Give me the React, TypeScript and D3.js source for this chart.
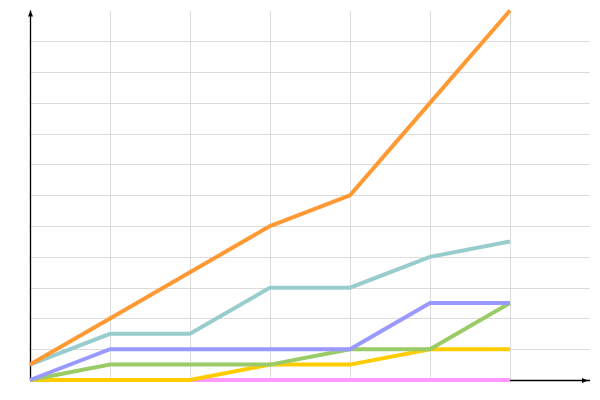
import React from "react";
import * as d3 from "d3";

// Seven sample positions along the x axis
const steps = [0, 1, 2, 3, 4, 5, 6];

// Series values, one entry per step
const orangeValues = [0.5, 2, 3.5, 5, 6, 9, 12];
const tealValues = [0.5, 1.5, 1.5, 3, 3, 4, 4.5];
const purpleValues = [0, 1, 1, 1, 1, 2.5, 2.5];
const greenValues = [0, 0.5, 0.5, 0.5, 1, 1, 2.5];
const yellowValues = [0, 0, 0, 0.5, 0.5, 1, 1];
const pinkValues = [0, 0, 0, 0, 0, 0, 0];

const seriesNames = ["orange", "teal", "purple", "green", "yellow", "pink"];
const seriesValues = [orangeValues, tealValues, purpleValues, greenValues, yellowValues, pinkValues];
const seriesColors = ["#ff9933", "#99cccc", "#9999ff", "#99cc66", "#ffcc00", "#ff99ff"];

// Gridline positions
const xGridTicks = [1, 2, 3, 4, 5, 6];
const yGridTicks = [1, 2, 3, 4, 5, 6, 7, 8, 9, 10, 11];

const W = 600;
const H = 400;

export default function App() {
  const x = d3.scaleLinear().domain([0, 7]).range([30, 590]);
  const y = d3.scaleLinear().domain([0, 12]).range([380, 10.5]);

  const line = d3
    .line<number>()
    .x((_, i) => x(steps[i]))
    .y((v) => y(v));

  const x0 = x(0);
  const y0 = y(0);
  const xEnd = x(7);
  const yTop = y(12);

  // draw the last series first so the first one ends up on top
  const order = seriesNames.map((_, i) => i).reverse();

  return (
    <svg
      width={W}
      height={H}
      style={{ position: "absolute", left: 0, top: 0, background: "#fff" }}
    >
      <g stroke="#dcdcdc" strokeWidth={1} shapeRendering="crispEdges">
        {yGridTicks.map((t) => (
          <line key={"h" + t} x1={x0} x2={xEnd} y1={Math.round(y(t)) + 0.5} y2={Math.round(y(t)) + 0.5} />
        ))}
        {xGridTicks.map((t) => (
          <line key={"v" + t} x1={x(t) + 0.5} x2={x(t) + 0.5} y1={yTop} y2={y0} />
        ))}
      </g>

      <g stroke="#000" strokeWidth={1.3}>
        <line x1={x0 + 0.5} x2={x0 + 0.5} y1={y0} y2={yTop} />
        <line x1={x0} x2={xEnd} y1={y0 + 0.5} y2={y0 + 0.5} />
      </g>
      <path
        d={`M${x0 + 0.5},${yTop} L${x0 + 3},${yTop + 6} L${x0 - 2},${yTop + 6} Z`}
        fill="#000"
      />
      <path
        d={`M${xEnd - 2},${y0 + 0.5} L${xEnd - 8},${y0 + 3} L${xEnd - 8},${y0 - 2} Z`}
        fill="#000"
      />

      {order.map((i) => (
        <path
          key={seriesNames[i]}
          d={line(seriesValues[i]) || ""}
          fill="none"
          stroke={seriesColors[i]}
          strokeWidth={4}
          strokeLinejoin="miter"
        />
      ))}
    </svg>
  );
}
